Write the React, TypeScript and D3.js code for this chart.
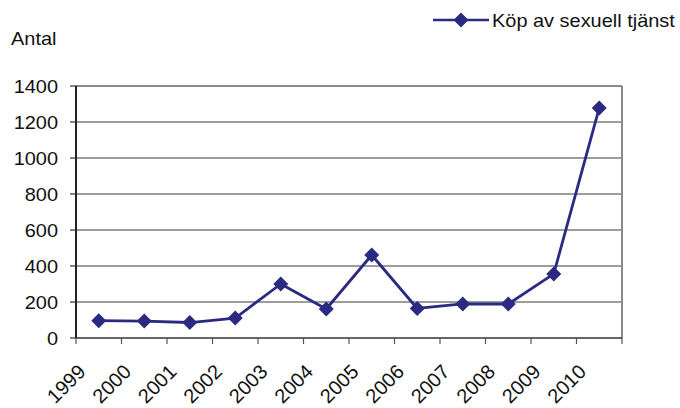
import { useMemo } from "react";
import * as d3 from "d3";

const WIDTH = 680;
const HEIGHT = 408;
const MARGIN = { top: 86, right: 58, bottom: 70, left: 76 };

const years = ["1999", "2000", "2001", "2002", "2003", "2004", "2005", "2006", "2007", "2008", "2009", "2010"];
const counts = [96, 94, 86, 111, 300, 161, 461, 164, 189, 189, 356, 1278];
const yTicks = [0, 200, 400, 600, 800, 1000, 1200, 1400];
const seriesName = "Köp av sexuell tjänst";

const NAVY = "#2B2A83";
const FONT = "'Liberation Sans', Arial, Helvetica, sans-serif";
const STRETCH = 1.14; // the original text is a bit wider than Arial

const diamond = (cx: number, cy: number, r: number) =>
  `M${cx},${cy - r}L${cx + r},${cy}L${cx},${cy + r}L${cx - r},${cy}Z`;

export default function App() {
  const boundsWidth = WIDTH - MARGIN.left - MARGIN.right;
  const boundsHeight = HEIGHT - MARGIN.top - MARGIN.bottom;

  const xScale = useMemo(
    () => d3.scaleBand().domain(years).range([0, boundsWidth]),
    [boundsWidth]
  );
  const yScale = useMemo(
    () => d3.scaleLinear().domain([0, 1400]).range([boundsHeight, 0]),
    [boundsHeight]
  );

  const cx = (y: string) => (xScale(y) ?? 0) + xScale.bandwidth() / 2;

  const linePath = d3
    .line<number>()
    .x((_, i) => cx(years[i]))
    .y((d) => yScale(d))(counts);

  return (
    <svg
      width={WIDTH}
      height={HEIGHT}
      style={{ position: "absolute", left: 0, top: 0, background: "#fff" }}
      fontFamily={FONT}
    >
      {/* y axis title */}
      <text transform={`translate(11,45) scale(${STRETCH},1)`} fontSize={17.5} fill="#111">
        Antal
      </text>

      {/* legend */}
      <g>
        <line x1={433} x2={489} y1={20} y2={20} stroke={NAVY} strokeWidth={2.5} />
        <path d={diamond(461, 20, 7.5)} fill={NAVY} />
        <text transform={`translate(492,27) scale(${STRETCH},1)`} fontSize={17.5} fill="#111">
          {seriesName}
        </text>
      </g>

      <g transform={`translate(${MARGIN.left},${MARGIN.top})`}>
        {/* grid + y ticks */}
        {yTicks.map((t) => (
          <g key={t}>
            {t > 0 && t < 1400 && (
              <line x1={0} x2={boundsWidth} y1={yScale(t)} y2={yScale(t)} stroke="#3a3a3a" strokeWidth={1} />
            )}
            <line x1={-6} x2={0} y1={yScale(t)} y2={yScale(t)} stroke="#333" strokeWidth={1.2} />
            <text
              transform={`translate(-18,${yScale(t) + 6.5}) scale(${STRETCH},1)`}
              textAnchor="end"
              fontSize={17.5}
              fill="#111"
            >
              {t}
            </text>
          </g>
        ))}

        {/* frame: top and right in grey */}
        <line x1={0} x2={boundsWidth} y1={0} y2={0} stroke="#8a8a8a" strokeWidth={2} />
        <line x1={boundsWidth} x2={boundsWidth} y1={0} y2={boundsHeight} stroke="#8a8a8a" strokeWidth={2} />

        {/* axes */}
        <line x1={0} x2={0} y1={0} y2={boundsHeight} stroke="#222" strokeWidth={2} />
        <line x1={0} x2={boundsWidth} y1={boundsHeight} y2={boundsHeight} stroke="#333" strokeWidth={1.5} />

        {/* x ticks at category boundaries */}
        {[...years.map((y) => xScale(y) ?? 0), boundsWidth].map((x, i) => (
          <line key={i} x1={x} x2={x} y1={boundsHeight} y2={boundsHeight + 6} stroke="#555" strokeWidth={1.2} />
        ))}

        {/* x labels */}
        {years.map((y) => (
          <text
            key={y}
            transform={`translate(${cx(y) - 12},${boundsHeight + 35}) rotate(-45)`}
            textAnchor="end"
            fontSize={20}
            fill="#111"
          >
            {y}
          </text>
        ))}

        {/* series */}
        <path d={linePath ?? ""} fill="none" stroke={NAVY} strokeWidth={2.8} strokeLinejoin="round" />
        {counts.map((v, i) => (
          <path key={i} d={diamond(cx(years[i]), yScale(v), 7.5)} fill={NAVY} />
        ))}
      </g>
    </svg>
  );
}
